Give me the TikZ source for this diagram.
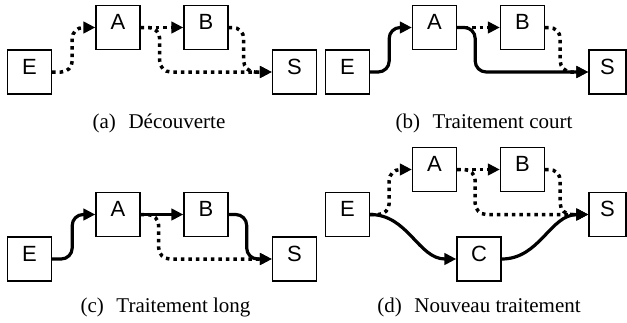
\documentclass[tikz,border=0pt]{standalone}
\usepackage{fontspec}
\setmainfont{Liberation Serif}
\newfontfamily\boxfont{Liberation Sans}
\usetikzlibrary{arrows.meta}

\tikzset{
  stage/.style={draw, line width=1.4pt, inner sep=0pt, minimum width=44pt,
    minimum height=44pt, text height=24pt, text depth=20pt,
    font=\boxfont\fontsize{22}{22}\selectfont},
  narrow/.style={minimum width=37pt},
  flow/.style={line width=3.2pt, -{Triangle[length=12pt,width=11.5pt]}},
  idle/.style={flow, line width=3.5pt, dash pattern=on 3.5pt off 4pt},
  elbow/.style={rounded corners=11pt},
  caption/.style={anchor=base, inner sep=0pt, font=\fontsize{21}{21}\selectfont}
}

\begin{document}
\begin{tikzpicture}[x=1pt, y=-1pt]
\useasboundingbox (0,0) rectangle (627,322);

% ---- (a) discovery: every route is dotted
\node[stage] (Ea) at (29.5,72) {E};
\node[stage] (Aa) at (118,27.5) {A};
\node[stage] (Ba) at (206,27.5) {B};
\node[stage] (Sa) at (294.5,72) {S};
\draw[idle, elbow] (Ea.east) -- ++(20,0) |- (Aa.west);
\draw[idle] (Aa.east) -- (Ba.west);
\draw[idle, elbow] (Aa.east) -- ++(19,0) |- (Sa.west);
\draw[idle, elbow] (Ba.east) -- ++(15,0) |- (Sa.west);
\node[caption] (capa) at (159,128) {(a)\hspace{0.6em}Découverte};

% ---- (b) short path E -> A -> S
\node[stage] (Eb) at (347.5,72) {E};
\node[stage] (Ab) at (434.5,27.5) {A};
\node[stage] (Bb) at (522.5,27.5) {B};
\node[stage, narrow] (Sb) at (607.5,72) {S};
\draw[idle] (Ab.east) -- (Bb.west);
\draw[idle, elbow] (Bb.east) -- ++(15,0) |- (Sb.west);
\draw[flow, elbow] (Eb.east) -- ++(19,0) |- (Ab.west);
\draw[flow, elbow] (Ab.east) -- ++(18,0) |- (Sb.west);
\node[caption] (capb) at (484,128) {(b)\hspace{0.6em}Traitement court};

% ---- (c) long path E -> A -> B -> S
\node[stage] (Ec) at (29.5,259) {E};
\node[stage] (Ac) at (118,214.5) {A};
\node[stage] (Bc) at (206,214.5) {B};
\node[stage] (Sc) at (294.5,259) {S};
\draw[idle, elbow] (Ac.east) -- ++(18,0) |- (Sc.west);
\draw[flow, elbow] (Ec.east) -- ++(20,0) |- (Ac.west);
\draw[flow] (Ac.east) -- (Bc.west);
\draw[flow, elbow] (Bc.east) -- ++(18,0) |- (Sc.west);
\node[caption] (capc) at (165.5,312) {(c)\hspace{0.6em}Traitement long};

% ---- (d) new path E -> C -> S
\node[stage] (Ed) at (347.5,214.5) {E};
\node[stage] (Ad) at (434.5,169.5) {A};
\node[stage] (Bd) at (522.5,169.5) {B};
\node[stage, narrow] (Sd) at (607.5,214.5) {S};
\node[stage] (Cd) at (479,259) {C};
\draw[idle, elbow] (Ed.east) -- ++(19,0) |- (Ad.west);
\draw[idle] (Ad.east) -- (Bd.west);
\draw[idle, elbow] (Ad.east) -- ++(18,0) |- (Sd.west);
\draw[idle, elbow] (Bd.east) -- ++(15,0) |- (Sd.west);
\draw[flow] (Ed.east) to[out=0, in=180] (Cd.west);
\draw[flow] (Cd.east) to[out=0, in=180] (Sd.west);
\node[caption] (capd) at (479,312) {(d)\hspace{0.6em}Nouveau traitement};
\end{tikzpicture}
\end{document}
